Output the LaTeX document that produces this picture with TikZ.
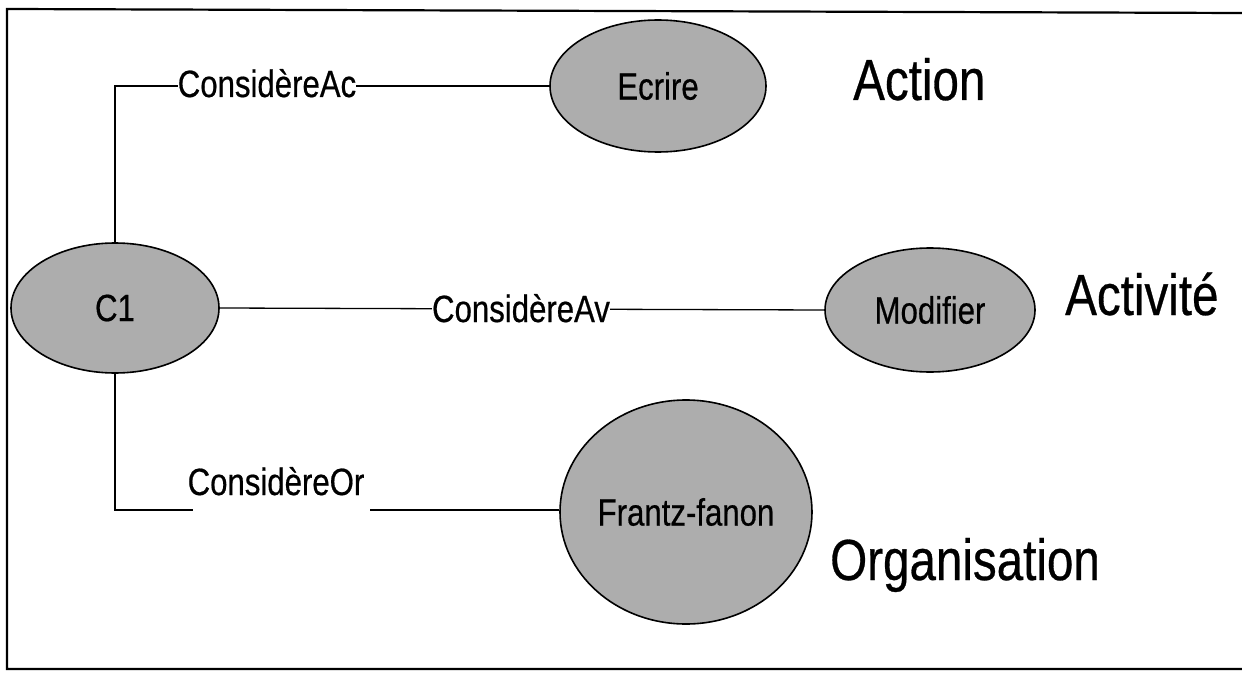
\documentclass[tikz,border=0pt]{standalone}
\usepackage{fontspec}
% narrow sans: horizontally compressed Liberation Sans, stems thickened a little
\setmainfont{Liberation Sans}[FakeStretch=0.82,FakeBold=0.5]
\usetikzlibrary{shapes.geometric}
\begin{document}
\begin{tikzpicture}[x=1pt,y=-1pt,
  concept/.style={ellipse,draw=black,line width=1.6pt,fill=black!32,inner sep=0pt,
    font=\fontsize{38}{40}\selectfont},
  link/.style={line width=1.3pt,draw=black},
  rel/.style={fill=white,inner sep=0pt,anchor=base,font=\fontsize{38}{40}\selectfont},
  cat/.style={anchor=base west,inner sep=0pt,font=\fontsize{58}{60}\selectfont}]
  \useasboundingbox (0,0) rectangle (1242,674);
  % frame
  \draw[line width=2.2pt] (1242,13) -- (7,9) -- (7,669) -- (1242,669);

  % concepts
  \node[concept,minimum width=208pt,minimum height=130pt] (c1) at (115,308) {C1};
  \node[concept,minimum width=216pt,minimum height=132pt] (ecrire) at (658,86) {Ecrire};
  \node[concept,minimum width=210pt,minimum height=124pt] (modif) at (930,310) {Modifier};
  \node[concept,minimum width=252pt,minimum height=224pt] (frantz) at (686,512) {Frantz-fanon};

  % relations
  \draw[link] (c1.north) |- (ecrire.west);
  \node[rel] (lac) at (267,97) {ConsidèreAc};

  \draw[link] (c1.east) -- (modif.west);
  \node[rel] (lav) at (521,322) {ConsidèreAv};

  \coordinate (orA) at (193,510);
  \coordinate (orB) at (370,510);
  \draw[link] (c1.south) |- (orA);
  \draw[link] (orB) -- (orB -| frantz.west);
  \node[rel,fill=none] (lor) at (276,495) {ConsidèreOr};

  % categories
  \node[cat] (action) at (853,100) {Action};
  \node[cat] (activite) at (1065,315) {Activité};
  \node[cat] (orga) at (830,580) {Organisation};
\end{tikzpicture}
\end{document}
